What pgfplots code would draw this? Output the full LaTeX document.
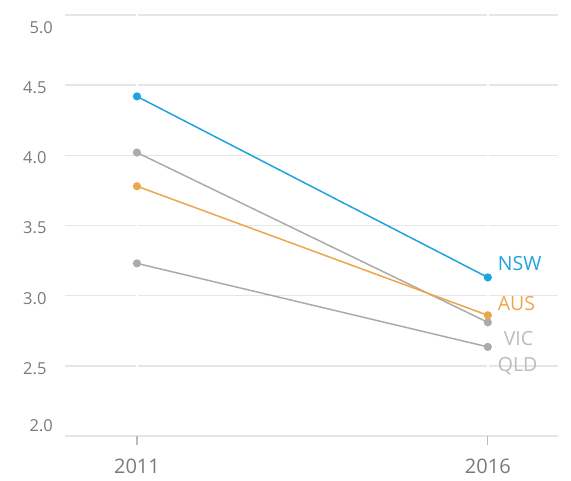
\documentclass[border=0pt]{standalone}
\usepackage{pgfplots}
\pgfplotsset{compat=1.18}
\usepackage{fontspec}
\setmainfont{Open Sans}
\definecolor{nsw}{HTML}{1FA3DE}
\definecolor{aus}{HTML}{EEA64C}
\definecolor{grayline}{HTML}{ABABAB}
\definecolor{graylab}{HTML}{BBBBBB}
\definecolor{gridc}{HTML}{E6E6E6}
\definecolor{tickc}{HTML}{7A7A7A}
\begin{document}
\begin{tikzpicture}[x=1pt,y=1pt]
\path[use as bounding box] (0,0) rectangle (571,481);
\begin{axis}[
  at={(65pt,45pt)}, anchor=south west,
  scale only axis, width=493pt, height=421pt,
  xmin=-0.205, xmax=1.2, ymin=2, ymax=5,
  axis line style={draw=none},
  xtick={0,1}, xticklabels={2011,2016},
  xtick pos=bottom, tick align=outside,
  major tick length=9pt,
  xtick style={draw=graylab, line width=1.2pt},
  ytick={2,2.5,3,3.5,4,4.5,5}, ytick style={draw=none},
  yticklabels={{},2.5,3.0,3.5,4.0,4.5,{}},
  ymajorgrids, grid style={draw=gridc, line width=1.5pt},
  yticklabel style={font=\fontsize{16.5}{18}\selectfont, text=tickc, xshift=-6pt, yshift=-2.5pt},
  xticklabel style={font=\fontsize{20}{22}\selectfont, text=tickc, yshift=-10pt},
  clip=false,
]
\draw[white, line width=2.2pt] (axis cs:0,2.3) -- (axis cs:0,5.05);
\draw[white, line width=2.2pt] (axis cs:1,2.3) -- (axis cs:1,5.05);
\addplot[grayline, line width=1.5pt, mark=*, mark size=3.3pt, mark options={draw=none, fill=grayline}] coordinates {(0,3.23) (1,2.635)};
\addplot[grayline, line width=1.5pt, mark=*, mark size=3.3pt, mark options={draw=none, fill=grayline}] coordinates {(0,4.02) (1,2.81)};
\addplot[aus, line width=1.5pt, mark=*, mark size=3.3pt, mark options={draw=none, fill=aus}] coordinates {(0,3.78) (1,2.86)};
\addplot[nsw, line width=1.5pt, mark=*, mark size=3.3pt, mark options={draw=none, fill=nsw}] coordinates {(0,4.42) (1,3.13)};
\node[anchor=east, inner sep=0pt, text=tickc, font=\fontsize{16.5}{18}\selectfont] at (axis cs:-0.239,4.91) {5.0};
\node[anchor=east, inner sep=0pt, text=tickc, font=\fontsize{16.5}{18}\selectfont] at (axis cs:-0.239,2.075) {2.0};
\node[anchor=west, inner sep=0pt, text=nsw, font=\fontsize{19.5}{21}\selectfont] at (axis cs:1.028,3.227) {NSW};
\node[anchor=west, inner sep=0pt, text=aus, font=\fontsize{19.5}{21}\selectfont] at (axis cs:1.028,2.942) {AUS};
\node[anchor=west, inner sep=0pt, text=graylab, font=\fontsize{19.5}{21}\selectfont] at (axis cs:1.045,2.692) {VIC};
\node[anchor=west, inner sep=0pt, text=graylab, font=\fontsize{19.5}{21}\selectfont] at (axis cs:1.028,2.50) {QLD};
\end{axis}
\end{tikzpicture}
\end{document}
